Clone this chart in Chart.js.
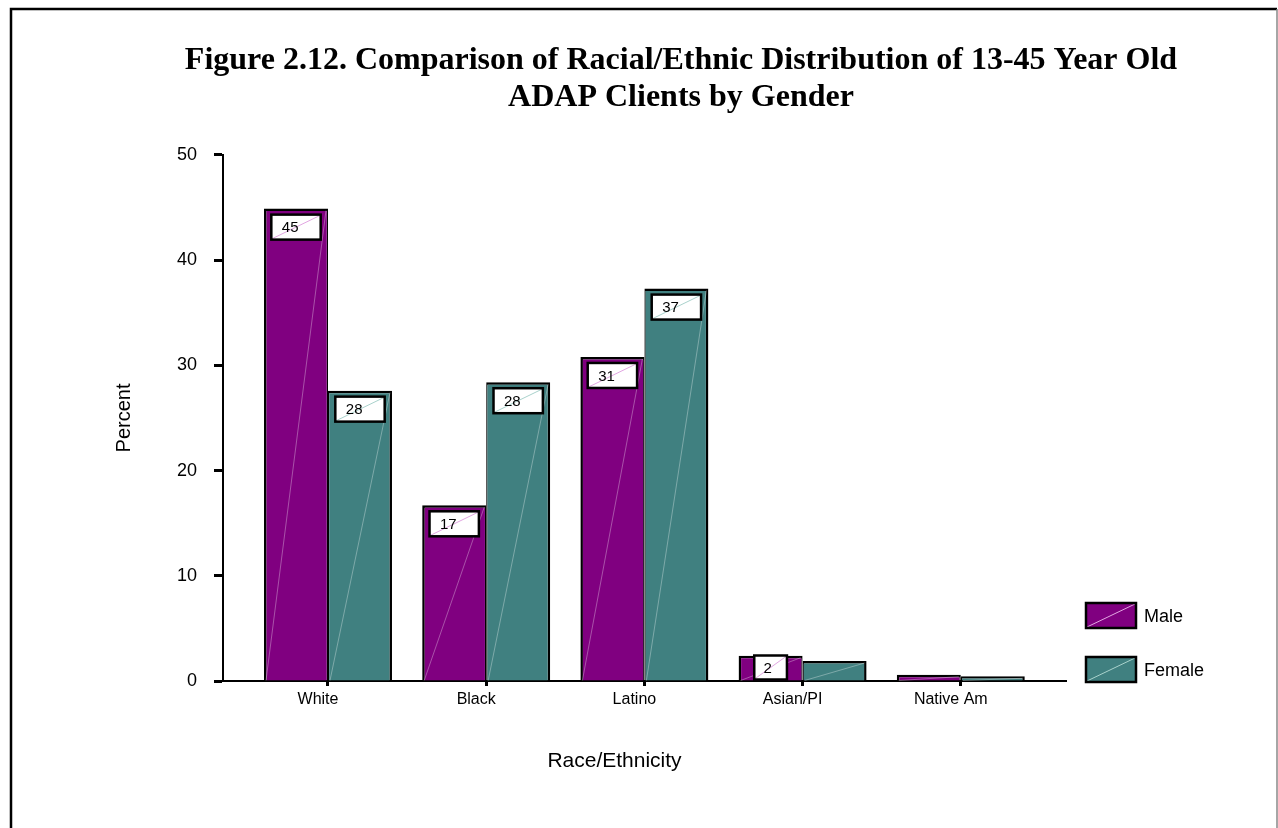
<!DOCTYPE html>
<html><head><meta charset="utf-8">
<script src="https://cdn.jsdelivr.net/npm/chart.js@4.4.1/dist/chart.umd.min.js"></script>
<style>html,body{margin:0;padding:0;background:#fff;overflow:hidden}canvas{display:block}</style>
</head><body>
<canvas id="c" width="1278" height="828"></canvas>
<script>
// ---- data ----
const categories = ['White', 'Black', 'Latino', 'Asian/PI', 'Native Am'];
const maleValues = [44.9, 16.7, 30.8, 2.4, 0.6];
const femaleValues = [27.6, 28.4, 37.3, 1.9, 0.45];
const maleLabels = ['45', '17', '31', '2', null];
const femaleLabels = ['28', '28', '37', null, null];
const yTicks = [0, 10, 20, 30, 40, 50];
const seriesNames = ['Male', 'Female'];
const titleLines = ['Figure 2.12. Comparison of Racial/Ethnic Distribution of 13-45 Year Old', 'ADAP Clients by Gender'];
const xTitle = 'Race/Ethnicity';
const yTitle = 'Percent';

// ---- styles ----
const MALE = '#800080', FEMALE = '#408080';
const SANS = '"Liberation Sans", Arial, sans-serif';
const SERIF = '"Liberation Serif", "Times New Roman", serif';

const frame = {
  id: 'frame',
  beforeDraw(chart) {
    const ctx = chart.ctx;
    ctx.save();
    ctx.fillStyle = '#fff';
    ctx.fillRect(0, 0, chart.width, chart.height);
    ctx.strokeStyle = '#000';
    ctx.lineWidth = 2.5;
    ctx.beginPath();
    ctx.moveTo(11, 900); ctx.lineTo(11, 9); ctx.lineTo(1277, 9);
    ctx.stroke();
    ctx.strokeStyle = '#888';
    ctx.lineWidth = 1.5;
    ctx.beginPath();
    ctx.moveTo(1277, 9); ctx.lineTo(1277, 900);
    ctx.stroke();
    ctx.restore();
  }
};

const diagonals = {
  id: 'diagonals',
  afterDatasetsDraw(chart) {
    const ctx = chart.ctx;
    ctx.save();
    ctx.lineWidth = 1;
    ctx.strokeStyle = 'rgba(255,255,255,0.32)';
    chart.data.datasets.forEach((ds, i) => {
      chart.getDatasetMeta(i).data.forEach(bar => {
        const p = bar.getProps(['x', 'y', 'base', 'width'], true);
        ctx.beginPath();
        ctx.moveTo(p.x - p.width / 2 + 2, p.base);
        ctx.lineTo(p.x + p.width / 2 - 2, p.y + 2);
        ctx.stroke();
      });
    });
    ctx.restore();
  }
};

const valueBoxes = {
  id: 'valueBoxes',
  afterDatasetsDraw(chart) {
    const ctx = chart.ctx;
    const labelSets = [maleLabels, femaleLabels];
    const diagCol = ['#e2a6e2', '#a9d2cc'];
    ctx.save();
    ctx.font = '15px ' + SANS;
    chart.data.datasets.forEach((ds, i) => {
      chart.getDatasetMeta(i).data.forEach((bar, j) => {
        const txt = labelSets[i][j];
        if (!txt) return;
        const p = bar.getProps(['x', 'y', 'base', 'width'], true);
        const tw = ctx.measureText(txt).width;
        const w = tw * 2 + 16;
        const top = Math.min(p.y + 6, p.base - 25);
        const bottom = Math.min(top + 25, p.base - 1);
        const left = p.x - w / 2;
        ctx.fillStyle = '#fff';
        ctx.fillRect(left, top, w, bottom - top);
        ctx.strokeStyle = diagCol[i];
        ctx.lineWidth = 1;
        ctx.beginPath();
        ctx.moveTo(left + 1, bottom - 1);
        ctx.lineTo(left + w - 1, top + 1);
        ctx.stroke();
        ctx.strokeStyle = '#000';
        ctx.lineWidth = 2.5;
        ctx.strokeRect(left, top, w, bottom - top);
        ctx.fillStyle = '#000';
        ctx.textAlign = 'center';
        ctx.textBaseline = 'middle';
        ctx.fillText(txt, p.x - tw * 0.35, (top + bottom) / 2 + 1);
      });
    });
    ctx.restore();
  }
};

// x-axis title: drawn from the x scale geometry, slightly left of centre as in the reference
const xAxisTitle = {
  id: 'xAxisTitle',
  afterDraw(chart) {
    const s = chart.scales.x;
    const ctx = chart.ctx;
    ctx.save();
    ctx.font = '21px ' + SANS;
    ctx.fillStyle = '#000';
    ctx.textAlign = 'center';
    ctx.textBaseline = 'middle';
    ctx.fillText(xTitle, (s.left + s.right) / 2 - 30, s.top + 80);
    ctx.restore();
  }
};

const sideLegend = {
  id: 'sideLegend',
  afterDraw(chart) {
    const ctx = chart.ctx;
    const a = chart.chartArea;
    const bx = a.right + 20;
    const tops = [a.bottom - 78, a.bottom - 24];
    const diagCol = ['#e2a6e2', '#a9d2cc'];
    ctx.save();
    chart.data.datasets.forEach((ds, i) => {
      const t = tops[i];
      ctx.fillStyle = ds.backgroundColor;
      ctx.fillRect(bx, t, 50, 25);
      ctx.strokeStyle = diagCol[i];
      ctx.lineWidth = 1;
      ctx.beginPath();
      ctx.moveTo(bx + 1, t + 24);
      ctx.lineTo(bx + 49, t + 1);
      ctx.stroke();
      ctx.strokeStyle = '#000';
      ctx.lineWidth = 2.5;
      ctx.strokeRect(bx, t, 50, 25);
      ctx.fillStyle = '#000';
      ctx.font = '18px ' + SANS;
      ctx.textAlign = 'left';
      ctx.textBaseline = 'middle';
      ctx.fillText(ds.label, bx + 58, t + 14.5);
    });
    ctx.restore();
  }
};

const toPoints = vals => vals.map((v, i) => ({ x: i, y: v }));

new Chart(document.getElementById('c'), {
  type: 'bar',
  data: {
    datasets: [
      {
        label: seriesNames[0], data: toPoints(maleValues),
        backgroundColor: MALE, borderColor: '#000', inflateAmount: 0,
        borderWidth: { top: 2.5, left: 2.5, right: 1.25, bottom: 0 }, borderSkipped: 'start'
      },
      {
        label: seriesNames[1], data: toPoints(femaleValues),
        backgroundColor: FEMALE, borderColor: '#000', inflateAmount: 0,
        borderWidth: { top: 2.5, left: 1.25, right: 2.5, bottom: 0 }, borderSkipped: 'start'
      }
    ]
  },
  options: {
    responsive: false,
    animation: false,
    devicePixelRatio: 1,
    categoryPercentage: 0.809,
    barPercentage: 1.0,
    layout: { padding: { top: 20, left: 84, right: 0, bottom: 20 } },
    plugins: {
      legend: { display: false },
      tooltip: { enabled: false },
      title: {
        display: true, text: titleLines, color: '#000',
        font: { family: SERIF, size: 32, weight: 'bold', lineHeight: 1.14 },
        padding: { top: 22.75, bottom: 39.25 }
      }
    },
    scales: {
      x: {
        type: 'linear', min: -0.6637, max: 4.665, offset: false,
        afterBuildTicks: s => { s.ticks = categories.map((_, i) => ({ value: i })); },
        afterFit: s => { s.height = 127; },
        grid: { display: true, offset: false, drawOnChartArea: false, drawTicks: true, tickLength: 5, tickWidth: 3, tickColor: '#000', color: '#000' },
        border: { display: true, color: '#000', width: 2 },
        ticks: {
          callback: v => categories[v], color: '#000', padding: 4, labelOffset: -10,
          maxRotation: 0, autoSkip: false, font: { family: SANS, size: 16, lineHeight: 1.2 }
        },
        title: { display: false, text: xTitle }
      },
      y: {
        type: 'linear', min: 0, max: 50,
        afterBuildTicks: s => { s.ticks = yTicks.map(v => ({ value: v })); },
        afterFit: s => { s.width = 139; },
        grid: { display: true, drawOnChartArea: false, drawTicks: true, tickLength: 9, tickWidth: 3, tickColor: '#000', color: '#000' },
        border: { display: true, color: '#000', width: 2 },
        ticks: { color: '#000', padding: 17, font: { family: SANS, size: 18 } },
        title: {
          display: true, text: yTitle, color: '#000',
          font: { family: SANS, size: 20, lineHeight: 1.2 }, padding: { top: 28, bottom: 0 }
        }
      },
      yRight: {
        type: 'linear', position: 'right', display: true,
        afterFit: s => { s.width = 212; },
        grid: { display: false, drawTicks: false },
        border: { display: false },
        ticks: { display: false }
      }
    }
  },
  plugins: [frame, diagonals, valueBoxes, xAxisTitle, sideLegend]
});
</script>
</body></html>
